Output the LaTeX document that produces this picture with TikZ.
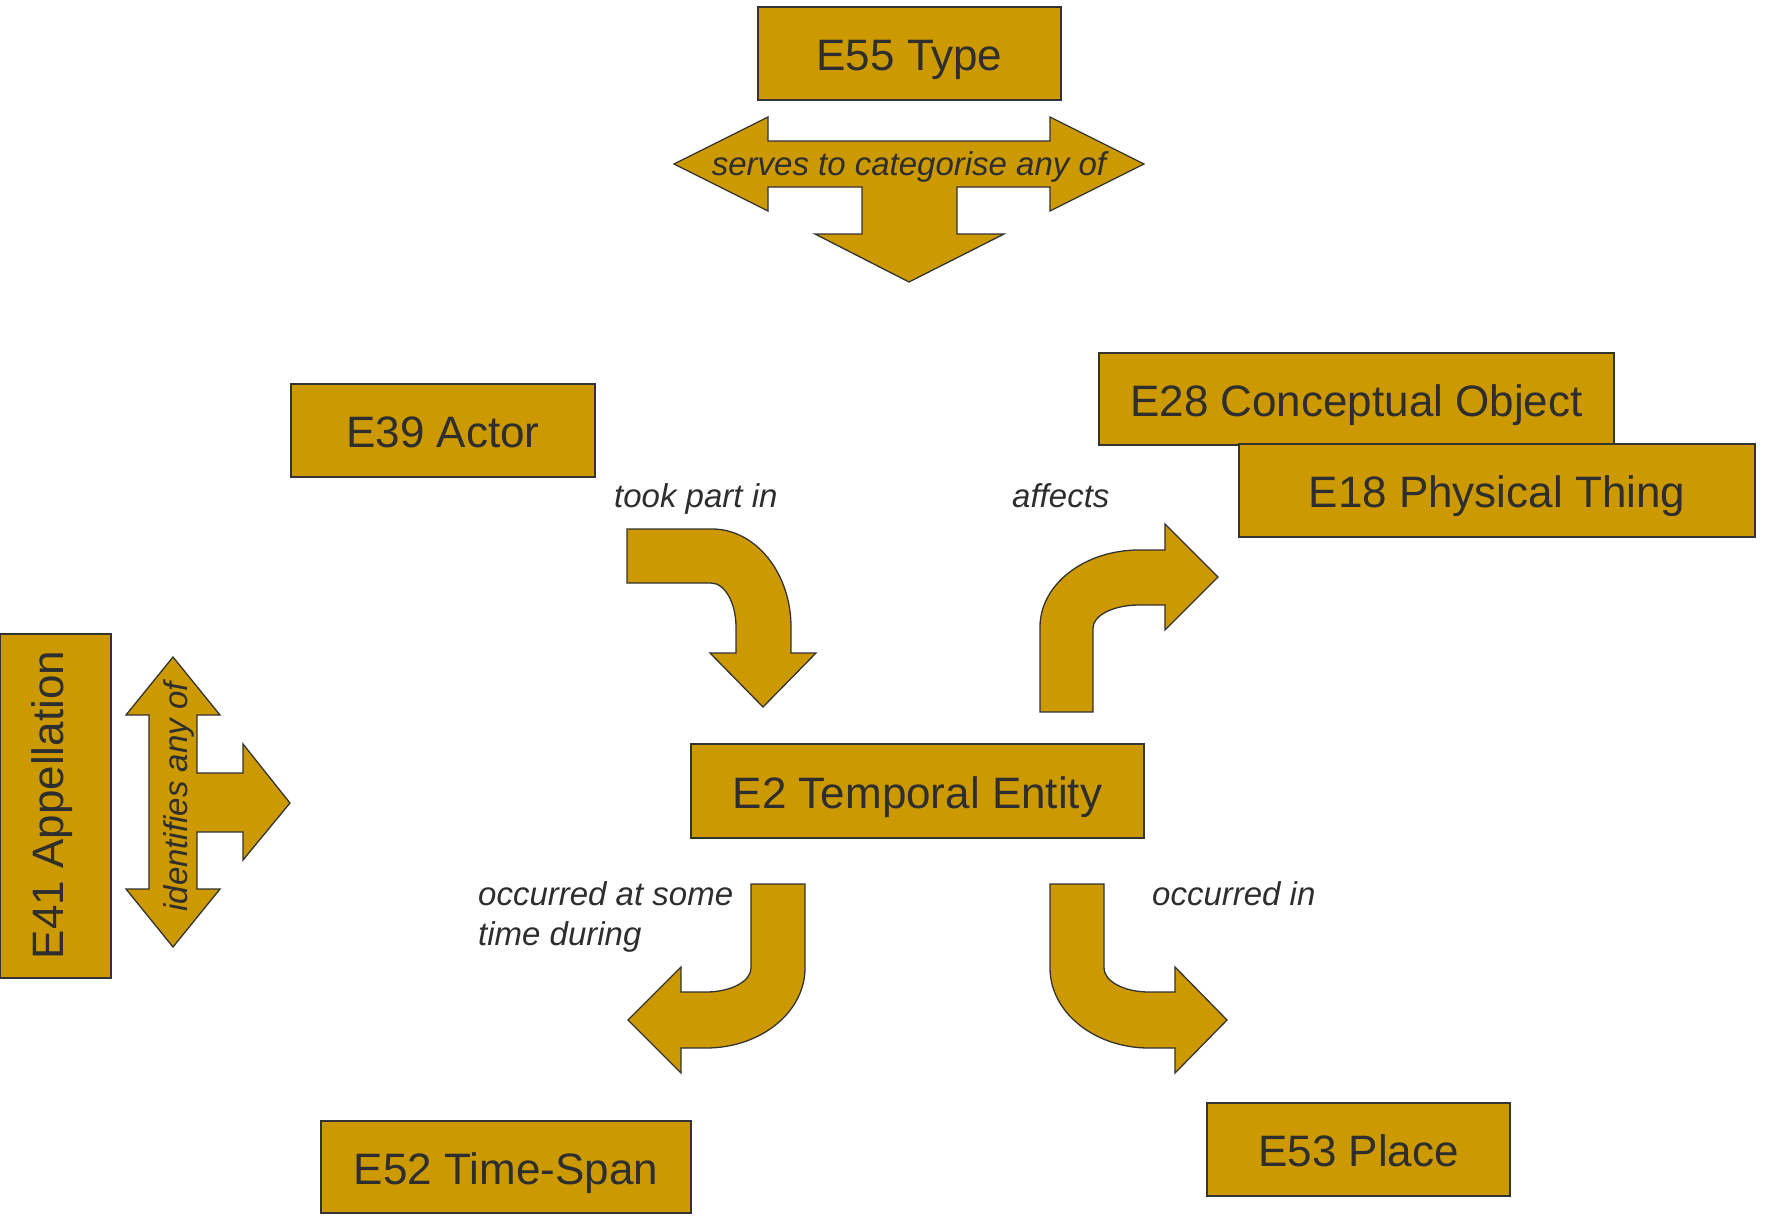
\documentclass[tikz,border=0pt]{standalone}
\usepackage{fontspec}
\setmainfont{Liberation Sans}
\definecolor{gold}{HTML}{CC9900}
\definecolor{ink}{HTML}{2E2E2E}
\definecolor{edgec}{HTML}{333333}
\begin{document}
\begin{tikzpicture}[x=1pt,y=-1pt,
  box/.style={draw=edgec, fill=gold, line width=1.6pt, inner sep=0pt, text=ink,
    font=\fontsize{44}{50}\selectfont, text height=34.5pt, text depth=0pt},
  blockarrow/.style={draw=edgec, fill=gold, line width=1.3pt, line join=miter},
  lab/.style={text=ink, font=\fontsize{33}{40}\selectfont\itshape, inner sep=0pt, anchor=base west},
  arrowlab/.style={text=ink, font=\fontsize{33}{40}\selectfont\itshape, inner sep=0pt, anchor=base}]
\useasboundingbox (0,0) rectangle (1769,1218);

% boxes
\node[box, minimum width=303pt, minimum height=93pt] (e55) at (909.5,53.5) {E55 Type};
\node[box, minimum width=304pt, minimum height=93pt] (e39) at (443,430.5) {E39 Actor};
\node[box, minimum width=515pt, minimum height=92pt] (e28) at (1356.5,399) {E28 Conceptual Object};
\node[box, minimum width=516pt, minimum height=93pt] (e18) at (1497,490.5) {E18 Physical Thing};
\node[box, minimum width=453pt, minimum height=94pt] (e2) at (917.5,791) {E2 Temporal Entity};
\node[box, minimum width=303pt, minimum height=93pt] (e53) at (1358.5,1149.5) {E53 Place};
\node[box, minimum width=370pt, minimum height=92pt] (e52) at (506,1167) {E52 Time-Span};
\node[box, minimum width=111pt, minimum height=344pt] (e41) at (55.5,806) {};
\node[text=ink, font=\fontsize{44}{50}\selectfont, inner sep=0pt, rotate=90, anchor=base] (e41lab) at (63,805) {E41 Appellation};

% serves to categorise any of
\draw[blockarrow] (674,164) -- (768,117) -- (768,141) -- (1050,141) -- (1050,117) -- (1144,164)
  -- (1050,211) -- (1050,187) -- (957,187) -- (957,234) -- (1004,234) -- (909,282)
  -- (815,234) -- (862,234) -- (862,187) -- (768,187) -- (768,211) -- cycle;
\node[arrowlab] (serves) at (909,175) {serves to categorise any of};

% took part in
\draw[blockarrow] (627,529) -- (712,529) .. controls (755.6,529) and (791,572.9) .. (791,627)
  -- (791,653) -- (816,653) -- (763,707) -- (710,653) -- (736,653) -- (736,627)
  .. controls (736,602.7) and (724.8,583) .. (711,583) -- (627,583) -- cycle;
\node[lab] (took) at (614,507) {took part in};

% affects
\draw[blockarrow] (1040,712) -- (1040,627) .. controls (1040,584.5) and (1084.3,550) .. (1139,550)
  -- (1165,550) -- (1165,524) -- (1218,577) -- (1165,630) -- (1165,605) -- (1139,605)
  .. controls (1113.6,605) and (1093,615.3) .. (1093,628) -- (1093,712) -- cycle;
\node[lab] (affects) at (1012,507) {affects};

% occurred at some time during
\draw[blockarrow] (751,884) -- (805,884) -- (805,968) .. controls (805,1012.2) and (760.7,1048) .. (706,1048)
  -- (681,1048) -- (681,1073) -- (628,1020) -- (681,967) -- (681,992) -- (706,992)
  .. controls (730.9,992) and (751,981.3) .. (751,968) -- cycle;
\node[lab] (occ1) at (478,905) {occurred at some};
\node[lab] (occ2) at (478,945) {time during};

% occurred in
\draw[blockarrow] (1050,884) -- (1104,884) -- (1104,968) .. controls (1104,981.3) and (1124.1,992) .. (1149,992)
  -- (1175,992) -- (1175,967) -- (1227,1020) -- (1175,1073) -- (1175,1048) -- (1149,1048)
  .. controls (1094.3,1048) and (1050,1012.2) .. (1050,968) -- cycle;
\node[lab] (occin) at (1152,905) {occurred in};

% identifies any of
\draw[blockarrow] (173,657) -- (220,715) -- (197,715) -- (197,773) -- (243,773) -- (243,744)
  -- (290,803) -- (243,860) -- (243,832) -- (197,832) -- (197,889) -- (220,889)
  -- (173,947) -- (126,889) -- (149,889) -- (149,715) -- (126,715) -- cycle;
\node[text=ink, font=\fontsize{33}{40}\selectfont\itshape, inner sep=0pt, rotate=90, anchor=base] (ident) at (187,797) {identifies any of};
\end{tikzpicture}
\end{document}
